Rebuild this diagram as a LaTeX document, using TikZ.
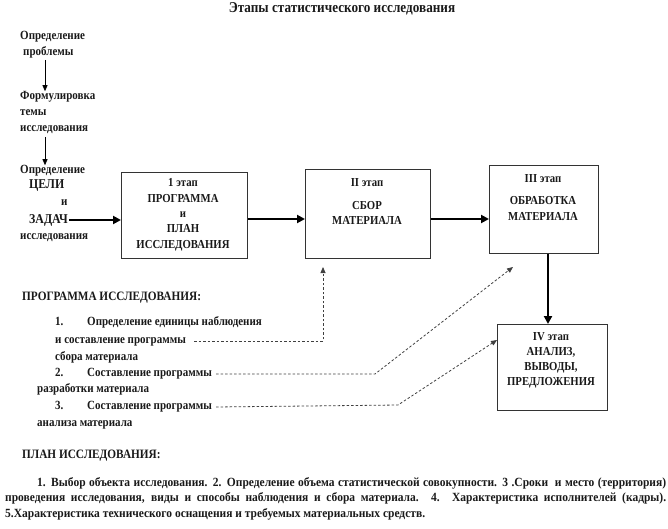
\documentclass[tikz,border=0pt]{standalone}
\usepackage{fontspec}
\setmainfont{Liberation Serif}
\newfontfamily\tbf{Liberation Serif}[UprightFont={* Bold}, FakeStretch=0.88]
\newfontfamily\tbfwide{Liberation Serif}[UprightFont={* Bold}, FakeStretch=0.92]
\usetikzlibrary{arrows.meta}
\newcommand{\fullline}[1]{\hbox to 661pt{#1}}
\begin{document}
\begin{tikzpicture}[x=1pt,y=-1pt,
  txt/.style={font=\tbf\fontsize{12.5}{14}\selectfont, inner sep=0pt, text=black!90, text height=0.7em, text depth=0.22em},
  boxtxt/.style={font=\tbf\fontsize{12.2}{14}\selectfont, inner sep=0pt, text=black!90, text height=0.7em, text depth=0.22em},
  bigcaps/.style={font=\tbf\fontsize{13.5}{15}\selectfont, inner sep=0pt, text=black!90},
  head/.style={font=\tbf\fontsize{12.8}{15}\selectfont, inner sep=0pt, text=black!90},
  titlestyle/.style={font=\tbf\fontsize{15}{17}\selectfont, inner sep=0pt, text=black!90},
  box/.style={draw=black!80, line width=1.1pt, inner sep=0pt},
  thickarr/.style={line width=2.4pt, -{Triangle[length=8pt,width=8pt]}},
  thinarr/.style={line width=0.8pt, -{Triangle[length=6pt,width=5pt]}},
  dasharr/.style={line width=0.8pt, black!75, dash pattern=on 2.5pt off 2pt, -{Triangle[length=6pt,width=5pt]}}]
\useasboundingbox (0,0) rectangle (668,529);

% title
\node[titlestyle] (title) at (342,9) {Этапы статистического исследования};

% left column
\node[txt, anchor=west] (p1a) at (20,37) {Определение};
\node[txt, anchor=west] (p1b) at (23,53) {проблемы};
\node[txt, anchor=west] (p2a) at (20,97) {Формулировка};
\node[txt, anchor=west] (p2b) at (20,113) {темы};
\node[txt, anchor=west] (p2c) at (20,129) {исследования};
\node[txt, anchor=west] (p3a) at (20,171) {Определение};
\node[bigcaps, anchor=west] (p3b) at (29,186) {ЦЕЛИ};
\node[txt, anchor=west] (p3c) at (61,203) {и};
\node[bigcaps, anchor=west] (p3d) at (29,220) {ЗАДАЧ};
\node[txt, anchor=west] (p3e) at (20,237) {исследования};
\coordinate (ax) at (45,0);
\draw[thinarr] ([yshift=-2pt]p1b.south -| ax) -- ([yshift=1pt]p2a.north -| ax);
\draw[thinarr] ([yshift=-3pt]p2c.south -| ax) -- ([yshift=1pt]p3a.north -| ax);

% boxes
\node[box, anchor=north west, minimum width=126pt, minimum height=86pt] (b1) at (121,172) {};
\node[box, anchor=north west, minimum width=125pt, minimum height=89pt] (b2) at (305,169) {};
\node[box, anchor=north west, minimum width=109pt, minimum height=88pt] (b3) at (489,165) {};
\node[box, anchor=north west, minimum width=110pt, minimum height=86pt] (b4) at (497,324) {};

% box texts
\node[boxtxt] (t1a) at (183,184) {1 этап};
\node[boxtxt] (t1b) at (183,200) {ПРОГРАММА};
\node[boxtxt] (t1c) at (183,215) {и};
\node[boxtxt] (t1d) at (183,230) {ПЛАН};
\node[boxtxt] (t1e) at (183,246) {ИССЛЕДОВАНИЯ};

\node[boxtxt] (t2a) at (367,184) {II этап};
\node[boxtxt] (t2b) at (367,207) {СБОР};
\node[boxtxt] (t2c) at (367,222) {МАТЕРИАЛА};

\node[boxtxt] (t3a) at (543,180) {III этап};
\node[boxtxt] (t3b) at (543,202) {ОБРАБОТКА};
\node[boxtxt] (t3c) at (543,218) {МАТЕРИАЛА};

\node[boxtxt] (t4a) at (551,338) {IV этап};
\node[boxtxt] (t4b) at (551,353) {АНАЛИЗ,};
\node[boxtxt] (t4c) at (551,368) {ВЫВОДЫ,};
\node[boxtxt] (t4d) at (551,383) {ПРЕДЛОЖЕНИЯ};

% thick arrows
\draw[thickarr] ([xshift=1pt]p3d.east) -- (p3d.east -| b1.west);
\coordinate (h1) at (0,219);
\draw[thickarr] (b1.east |- h1) -- (b2.west |- h1);
\draw[thickarr] (b2.east |- h1) -- (b3.west |- h1);
\coordinate (vx) at (548,0);
\draw[thickarr] (b3.south -| vx) -- (b4.north -| vx);

% program list
\node[head, anchor=west] (prog) at (22,298) {ПРОГРАММА ИССЛЕДОВАНИЯ:};
\node[txt, anchor=west] (n1) at (55,323) {1.};
\node[txt, anchor=west] (i1a) at (87,323) {Определение единицы наблюдения};
\node[txt, anchor=west] (i1b) at (55,341) {и составление программы};
\node[txt, anchor=west] (i1c) at (55,358) {сбора материала};
\node[txt, anchor=west] (n2) at (55,374) {2.};
\node[txt, anchor=west] (i2a) at (87,374) {Составление программы};
\node[txt, anchor=west] (i2b) at (37,390) {разработки материала};
\node[txt, anchor=west] (n3) at (55,407) {3.};
\node[txt, anchor=west] (i3a) at (87,407) {Составление программы};
\node[txt, anchor=west] (i3b) at (37,424) {анализа материала};

% dashed arrows
\coordinate (d1k) at (323,341);
\coordinate (d1t) at (323,267);
\draw[dasharr] ([xshift=8pt]i1b.east) -- (d1k) -- (d1t);
\coordinate (d2k) at (375,374);
\coordinate (d2t) at (513,267);
\draw[dasharr] ([xshift=4pt]i2a.east) -- (d2k) -- (d2t);
\coordinate (d3k) at (398,405);
\coordinate (d3t) at (497,340);
\draw[dasharr] ([xshift=4pt]i3a.east) -- (d3k) -- (d3t);

% plan
\node[head, anchor=west] (plan) at (22,456) {ПЛАН ИССЛЕДОВАНИЯ:};
\node[anchor=north west, inner sep=0pt, text=black!90, align=left, font=\tbfwide\fontsize{12.5}{15.7}\selectfont] (par) at (5,477)
 {\fullline{\hspace*{32pt}1. Выбор объекта исследования. 2. Определение объема статистической совокупности. 3 .Сроки \ и место (территория)}\\
 \fullline{проведения исследования, виды и способы наблюдения и сбора материала. 4. Характеристика исполнителей (кадры).}\\
 5.Характеристика технического оснащения и требуемых материальных средств.};
\end{tikzpicture}
\end{document}
